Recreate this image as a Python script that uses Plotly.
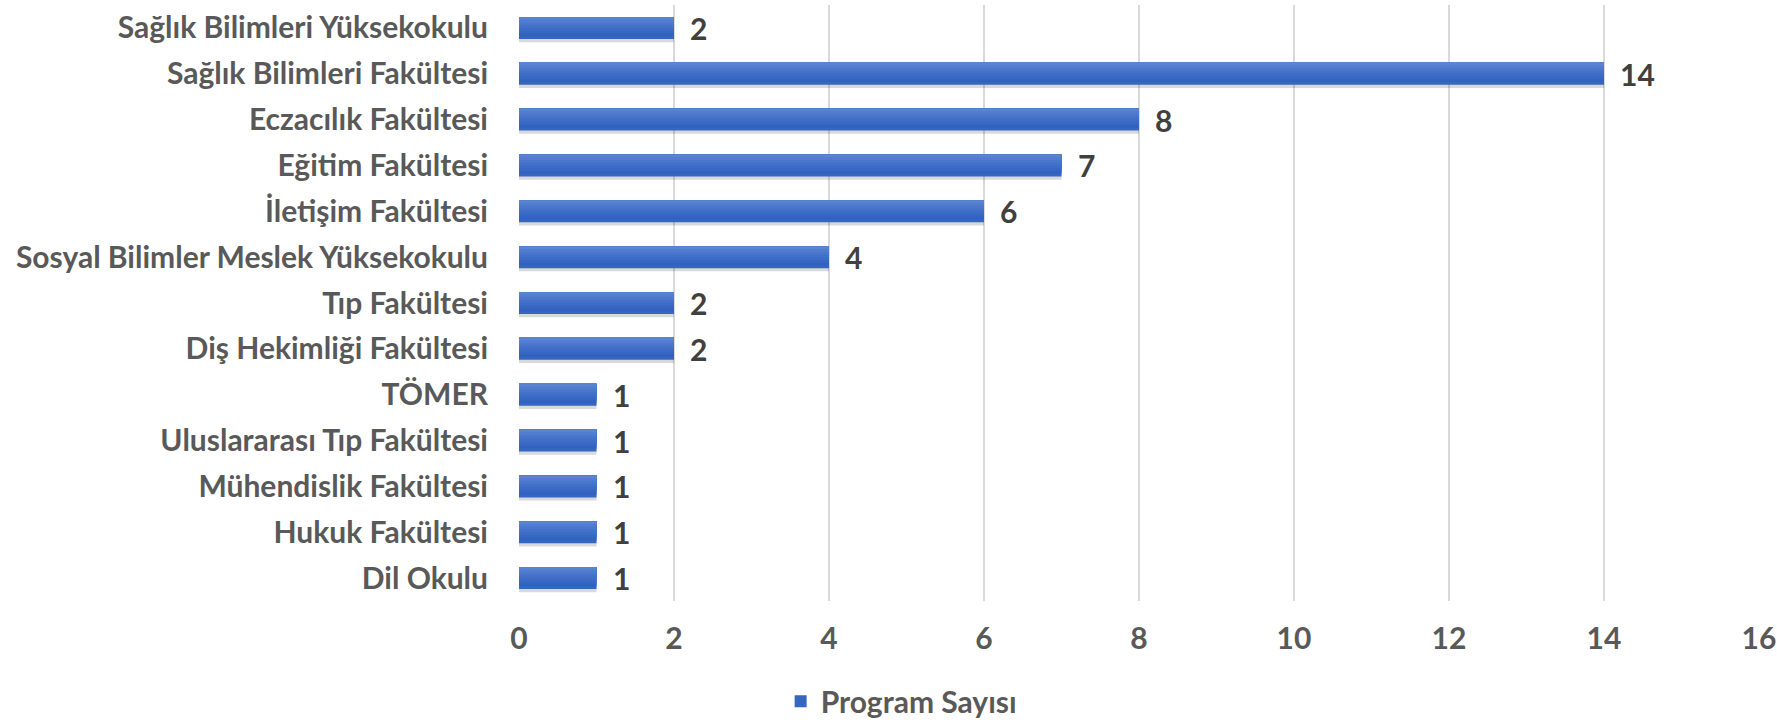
import plotly.graph_objects as go

categories = ["Sağlık Bilimleri Yüksekokulu", "Sağlık Bilimleri Fakültesi", "Eczacılık Fakültesi",
              "Eğitim Fakültesi", "İletişim Fakültesi", "Sosyal Bilimler Meslek Yüksekokulu",
              "Tıp Fakültesi", "Diş Hekimliği Fakültesi", "TÖMER", "Uluslararası Tıp Fakültesi",
              "Mühendislik Fakültesi", "Hukuk Fakültesi", "Dil Okulu"]
values = [2, 14, 8, 7, 6, 4, 2, 2, 1, 1, 1, 1, 1]
series_name = "Program Sayısı"
x_ticks = [0, 2, 4, 6, 8, 10, 12, 14, 16]

FONT = "Lato, 'Open Sans', sans-serif"
FS = 30
BAR_W = 0.48
band_colors = ["#3262c0", "#3767c3", "#3d6cc6", "#4371c9", "#4a77cc", "#527dcf", "#5a83d2"]

fig = go.Figure()

# soft drop shadow
fig.add_trace(go.Bar(y=categories, x=values, orientation="h", width=BAR_W, offset=-BAR_W / 2 + 0.07,
                     marker=dict(color="rgba(0,0,0,0.15)", line=dict(width=0)), showlegend=False,
                     hoverinfo="skip"))
# main bar
fig.add_trace(go.Bar(y=categories, x=values, orientation="h", name=series_name, width=BAR_W,
                     offset=-BAR_W / 2, marker=dict(color="#3566c2", line=dict(width=0))))
# gradient bands (lighter towards the top)
n = len(band_colors)
for i, c in enumerate(band_colors):
    frac = (n - i) / (n + 1)
    fig.add_trace(go.Bar(y=categories, x=values, orientation="h", width=BAR_W * frac,
                         offset=-BAR_W / 2, marker=dict(color=c, line=dict(width=0)),
                         showlegend=False, hoverinfo="skip"))

for cat, v in zip(categories, values):
    fig.add_annotation(x=v, y=cat, text=str(v), showarrow=False, xanchor="left", xshift=14,
                       font=dict(family=FONT, size=FS, color="#404040", weight="bold"))

fig.update_layout(
    width=1777, height=722,
    margin=dict(l=519, r=18, t=5, b=121, autoexpand=False),
    paper_bgcolor="white", plot_bgcolor="white",
    barmode="overlay",
    font=dict(family=FONT, size=FS, color="#595959", weight="bold"),
    xaxis=dict(range=[0, 16], tickvals=x_ticks, showgrid=True, gridcolor="#d9d9d9", gridwidth=1.5,
               zeroline=False, showline=False, ticks="", ticklabelstandoff=17, automargin=False,
               tickfont=dict(family=FONT, size=FS, color="#595959", weight="bold")),
    yaxis=dict(type="category", autorange="reversed", showgrid=False, zeroline=False,
               showline=False, ticks="", ticklabelstandoff=30, automargin=False,
               tickfont=dict(family=FONT, size=FS, color="#595959", weight="bold")),
    legend=dict(orientation="h", x=0.211, xanchor="left", y=-0.168, yanchor="middle",
                font=dict(family=FONT, size=FS, color="#595959", weight="bold"),
                itemwidth=30),
    showlegend=True,
)

fig.write_html("out.html", config={"displayModeBar": False},
               post_script="document.body.style.margin='0';")
